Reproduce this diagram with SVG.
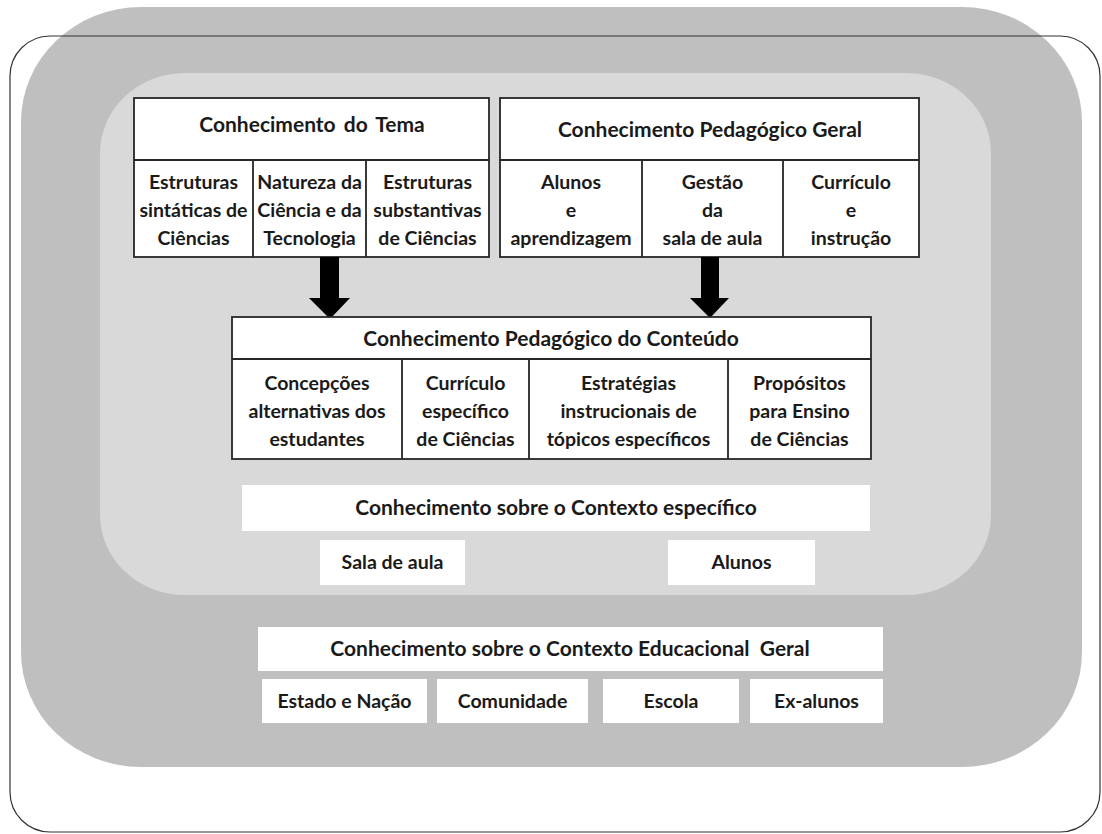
<svg xmlns="http://www.w3.org/2000/svg" width="1102" height="834" viewBox="0 0 1102 834">
<defs>
<style>
.t{font-family:Lato,"Open Sans","Liberation Sans",sans-serif;font-weight:700;fill:#1a1a1a;text-anchor:middle}
.h{font-size:21px}
.c{font-size:19.5px}
.box{fill:#fff;stroke:#262626;stroke-width:1.8}
.ln{stroke:#262626;stroke-width:1.8;fill:none}
.wb{fill:#fff}
</style>
</defs>
<rect width="1102" height="834" fill="#fff"/>
<g id="outer-bg">
<rect x="21" y="7" width="1061" height="760" rx="120" ry="115" fill="#bfbfbf"/>
<rect x="100" y="73" width="891" height="522" rx="85" ry="80" fill="#d9d9d9"/>
<rect x="10" y="36" width="1090" height="796" rx="40" ry="40" fill="none" stroke="#333" stroke-width="1.2"/>
</g>
<g id="tema">
<rect class="box" x="134" y="98" width="355" height="159"/>
<path class="ln" d="M134 160H489M253 160V257M366 160V257"/>
<text class="t h" x="312" y="132" word-spacing="3">Conhecimento do Tema</text>
<text class="t c" x="193.5" y="189">Estruturas</text>
<text class="t c" x="193.5" y="217">sintáticas de</text>
<text class="t c" x="193.5" y="245">Ciências</text>
<text class="t c" x="309.5" y="189">Natureza da</text>
<text class="t c" x="309.5" y="217">Ciência e da</text>
<text class="t c" x="309.5" y="245">Tecnologia</text>
<text class="t c" x="427.5" y="189">Estruturas</text>
<text class="t c" x="427.5" y="217">substantivas</text>
<text class="t c" x="427.5" y="245">de Ciências</text>
</g>
<g id="pedagogico-geral">
<rect class="box" x="500" y="98" width="419" height="159"/>
<path class="ln" d="M500 160H919M642 160V257M783 160V257"/>
<text class="t h" x="710" y="137">Conhecimento Pedagógico Geral</text>
<text class="t c" x="571" y="189">Alunos</text>
<text class="t c" x="571" y="217">e</text>
<text class="t c" x="571" y="245">aprendizagem</text>
<text class="t c" x="712.5" y="189">Gestão</text>
<text class="t c" x="712.5" y="217">da</text>
<text class="t c" x="712.5" y="245">sala de aula</text>
<text class="t c" x="851" y="189">Currículo</text>
<text class="t c" x="851" y="217">e</text>
<text class="t c" x="851" y="245">instrução</text>
</g>
<g id="connectors">
<polygon points="320,257 339,257 339,298 350,298 330,319 309,298 320,298" fill="#000"/>
<polygon points="701,257 719,257 719,298 729,298 710,318 690,298 701,298" fill="#000"/>
</g>
<g id="pck">
<rect class="box" x="232" y="317" width="639" height="142"/>
<path class="ln" d="M232 359H871M402 359V459M529 359V459M728 359V459"/>
<text class="t h" x="551" y="346">Conhecimento Pedagógico do Conteúdo</text>
<text class="t c" x="317" y="390">Concepções</text>
<text class="t c" x="317" y="418">alternativas dos</text>
<text class="t c" x="317" y="446">estudantes</text>
<text class="t c" x="465.5" y="390">Currículo</text>
<text class="t c" x="465.5" y="418">específico</text>
<text class="t c" x="465.5" y="446">de Ciências</text>
<text class="t c" x="628.5" y="390">Estratégias</text>
<text class="t c" x="628.5" y="418">instrucionais de</text>
<text class="t c" x="628.5" y="446">tópicos específicos</text>
<text class="t c" x="799.5" y="390">Propósitos</text>
<text class="t c" x="799.5" y="418">para Ensino</text>
<text class="t c" x="799.5" y="446">de Ciências</text>
</g>
<g id="contexto-especifico">
<rect class="wb" x="242" y="485" width="628" height="46"/>
<text class="t h" x="556" y="515">Conhecimento sobre o Contexto específico</text>
</g>
<g id="sala-de-aula">
<rect class="wb" x="320" y="540" width="145" height="45"/>
<text class="t c" x="392.5" y="569">Sala de aula</text>
</g>
<g id="alunos">
<rect class="wb" x="668" y="540" width="147" height="45"/>
<text class="t c" x="741.5" y="569">Alunos</text>
</g>
<g id="contexto-geral">
<rect class="wb" x="258" y="627" width="625" height="44"/>
<text class="t h" x="570" y="656" xml:space="preserve">Conhecimento sobre o Contexto Educacional  Geral</text>
</g>
<g id="estado-nacao">
<rect class="wb" x="262" y="679" width="165" height="44"/>
<text class="t c" x="344.5" y="708">Estado e Nação</text>
</g>
<g id="comunidade">
<rect class="wb" x="437" y="679" width="151" height="44"/>
<text class="t c" x="512.5" y="708">Comunidade</text>
</g>
<g id="escola">
<rect class="wb" x="603" y="679" width="136" height="44"/>
<text class="t c" x="671" y="708">Escola</text>
</g>
<g id="ex-alunos">
<rect class="wb" x="750" y="679" width="133" height="44"/>
<text class="t c" x="816.5" y="708">Ex-alunos</text>
</g>
</svg>
